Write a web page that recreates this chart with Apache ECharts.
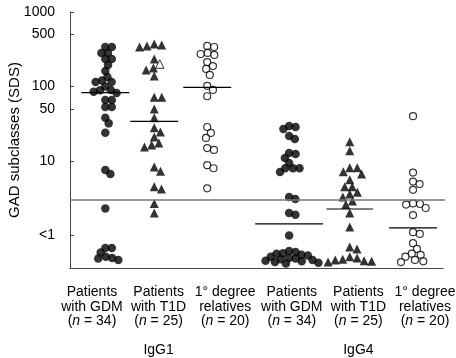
<!DOCTYPE html>
<html>
<head>
<meta charset="utf-8">
<script src="https://cdn.jsdelivr.net/npm/echarts@6/dist/echarts.min.js"></script>
<style>
  html, body { margin: 0; padding: 0; background: #fff; }
  #chart { width: 456px; height: 358px; }
</style>
</head>
<body>
<div id="chart"></div>
<script>
// GAD subclass levels (SDS)
const gdmIgG1 = [339, 339, 282, 282, 234, 234, 195, 162, 134, 120, 115, 115, 100, 90, 89, 85, 82,
  66, 66, 53, 53, 38, 32, 24, 7.6, 6.7, 2.3, 0.68, 0.68, 0.59, 0.52, 0.5, 0.49, 0.47];
const t1dIgG1 = [372, 360, 350, 339, 234, 177, 167, 138, 72, 72, 50, 38, 28, 24.5, 21, 17.5,
  16.4, 15.4, 8.3, 7.3, 4.5, 4.2, 2.7, 2.0];
const t1dIgG1Open = [200];
const relIgG1 = [350, 339, 282, 273, 265, 213, 188, 172, 143, 102, 90, 74, 28.6, 23.8, 20.4,
  14.9, 14.1, 8.8, 8.0, 4.3];
const gdmIgG4 = [29.5, 28.6, 26.9, 21.7, 19.7, 12.8, 12.4, 11.0, 9.4, 8.0, 8.0, 8.0, 7.1, 3.3,
  3.1, 2.0, 1.9, 1.0, 0.62, 0.6, 0.58, 0.57, 0.55, 0.54, 0.52, 0.5, 0.49, 0.48, 0.47, 0.46,
  0.45, 0.44, 0.43, 0.42];
const t1dIgG4 = [18.2, 13.7, 8.1, 8.1, 7.2, 6.7, 5.6, 4.5, 4.5, 3.8, 3.6, 3.3, 2.9, 2.6, 2.0,
  1.3, 0.70, 0.66, 0.52, 0.5, 0.48, 0.47, 0.46, 0.45, 0.44];
const relIgG4 = [40, 7.0, 5.3, 4.9, 4.1, 2.7, 2.65, 2.6, 2.34, 1.88, 1.11, 1.05, 0.79, 0.66,
  0.57, 0.55, 0.52, 0.47, 0.45, 0.44];

const medians = [83, 34, 97.5, 1.43, 2.27, 1.27];
const cutoff = 3;

const groupNames = ['Patients\nwith GDM', 'Patients\nwith T1D', '1° degree\nrelatives',
  'Patients\nwith GDM', 'Patients\nwith T1D', '1° degree\nrelatives'];
const groupN = [34, 25, 20, 34, 25, 20];
const subclassNames = ['IgG1', 'IgG4'];

const yTickValues = [1000, 500, 100, 50, 10, 1];
const yTickLabels = ['1000', '500', '100', '50', '10', '<1'];

// layout
const groupCentres = [0.2, 0.935, 1.73, 2.96, 3.87, 4.82];
const medianHalf = [0.36, 0.36, 0.36, 0.51, 0.35, 0.36];
const xMin = -0.33, xMax = 5.27, yMin = -0.436, yMax = 3;
const gridLeft = 70, gridTop = 12, gridW = 373, gridH = 256;
const pxPerX = gridW / (xMax - xMin);
const pxPerY = gridH / (yMax - yMin);

const lg = v => Math.log10(v);

/** simple beeswarm: horizontal offsets so markers don't overlap */
function swarm(vals, d) {
  const ys = vals.map(v => lg(v) * pxPerY);
  const order = ys.map((y, i) => i).sort((a, b) => ys[b] - ys[a]);
  const placed = [];
  const xs = [];
  order.forEach(i => {
    const y = ys[i];
    const cands = [0];
    placed.forEach(p => {
      const dy = Math.abs(p.y - y);
      if (dy < d) {
        const dx = Math.sqrt(d * d - dy * dy);
        cands.push(p.x + dx, p.x - dx);
      }
    });
    cands.sort((a, b) => Math.abs(a) - Math.abs(b));
    const x = cands.find(c => placed.every(p => (c - p.x) ** 2 + (y - p.y) ** 2 >= d * d - 0.01));
    placed.push({ x, y });
    xs[i] = x;
  });
  return xs.map(x => x / pxPerX);
}

function points(vals, g, d, from, to) {
  const off = swarm(vals, d);
  const out = [];
  for (let i = from || 0; i < (to == null ? vals.length : to); i++) {
    out.push([groupCentres[g] + off[i], lg(vals[i])]);
  }
  return out;
}

const t1dAll = t1dIgG1.concat(t1dIgG1Open);

const filled = { color: '#000' };
const hollow = { color: '#fff', borderColor: '#000', borderWidth: 1.2 };

const series = [
  { type: 'scatter', symbol: 'circle', symbolSize: 8.5, itemStyle: filled, data: points(gdmIgG1, 0, 6.5) },
  { type: 'scatter', symbol: 'triangle', symbolSize: 9, itemStyle: filled, data: points(t1dAll, 1, 7.5, 0, t1dIgG1.length) },
  { type: 'scatter', symbol: 'triangle', symbolSize: 8.5, itemStyle: { color: '#fff', borderColor: '#000', borderWidth: 1 }, data: points(t1dAll, 1, 7.5, t1dIgG1.length) },
  { type: 'scatter', symbol: 'circle', symbolSize: 7, itemStyle: hollow, data: points(relIgG1, 2, 7) },
  { type: 'scatter', symbol: 'circle', symbolSize: 8.5, itemStyle: filled, data: points(gdmIgG4, 3, 6.5) },
  { type: 'scatter', symbol: 'triangle', symbolSize: 9, itemStyle: filled, data: points(t1dIgG4, 4, 7.5) },
  { type: 'scatter', symbol: 'circle', symbolSize: 7, itemStyle: hollow, data: points(relIgG4, 5, 7) },
  {
    type: 'line', symbol: 'none', clip: false, silent: true,
    lineStyle: { color: '#777', width: 1.5 },
    data: [[xMin, lg(cutoff)], [xMax + 13 / pxPerX, lg(cutoff)]]
  }
];
medians.forEach((m, g) => {
  series.push({
    type: 'line', symbol: 'none', silent: true,
    lineStyle: { color: '#000', width: 1.2 },
    data: [[groupCentres[g] - medianHalf[g], lg(m)], [groupCentres[g] + medianHalf[g], lg(m)]]
  });
});

const chart = echarts.init(document.getElementById('chart'));
chart.setOption({
  animation: false,
  textStyle: { fontFamily: '"Liberation Sans", Arial, sans-serif', color: '#000' },
  grid: { left: gridLeft, top: gridTop, width: gridW, height: gridH, containLabel: false, outerBoundsMode: 'none' },
  xAxis: {
    type: 'value', min: xMin, max: xMax,
    splitLine: { show: false },
    axisTick: { show: false },
    axisLine: { onZero: false, lineStyle: { color: '#444', width: 1 } },
    axisLabel: {
      customValues: [0, 1, 2, 3, 4, 5],
      margin: 17,
      fontSize: 14,
      lineHeight: 14.5,
      color: '#000',
      formatter: v => {
        const g = Math.round(v);
        let s = groupNames[g] + '\n({i|n} = ' + groupN[g] + ')';
        if (g === 1) s += '\n\n' + subclassNames[0];
        if (g === 4) s += '\n\n' + subclassNames[1];
        return s;
      },
      rich: { i: { fontStyle: 'italic', fontSize: 14, lineHeight: 14.5 } }
    }
  },
  yAxis: {
    type: 'value', min: yMin, max: yMax,
    name: 'GAD subclasses (SDS)',
    nameLocation: 'middle',
    nameGap: 48,
    nameMoveOverlap: false,
    nameTextStyle: { fontSize: 15, color: '#000' },
    splitLine: { show: false },
    axisLine: { show: true, onZero: false, lineStyle: { color: '#444', width: 1 } },
    axisTick: { show: true, inside: true, length: 4, customValues: yTickValues.map(lg), lineStyle: { color: '#444' } },
    axisLabel: {
      customValues: yTickValues.map(lg),
      margin: 15,
      fontSize: 14,
      color: '#000',
      formatter: v => {
        let k = 0;
        yTickValues.forEach((t, i) => { if (Math.abs(lg(t) - v) < Math.abs(lg(yTickValues[k]) - v)) k = i; });
        return yTickLabels[k];
      }
    }
  },
  series: series
});
</script>
</body>
</html>
